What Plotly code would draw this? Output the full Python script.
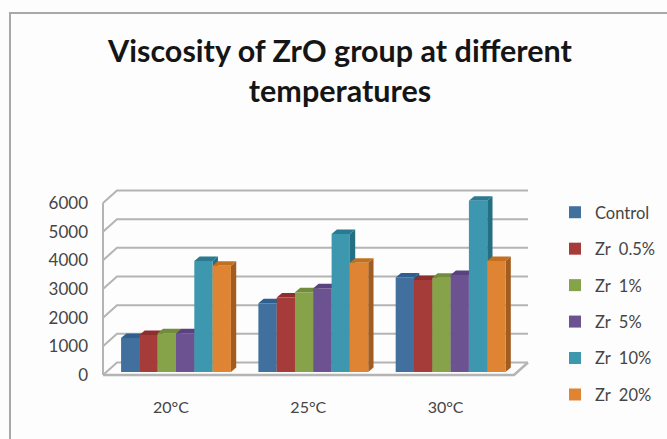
import plotly.graph_objects as go

categories = ["20°C", "25°C", "30°C"]
series_names = ["Control", "Zr  0.5%", "Zr  1%", "Zr  5%", "Zr  10%", "Zr  20%"]
control = [1190, 2400, 3300]
zr_05 = [1290, 2600, 3210]
zr_1 = [1350, 2780, 3290]
zr_5 = [1350, 2920, 3380]
zr_10 = [3870, 4810, 5975]
zr_20 = [3710, 3810, 3870]
y_ticks = [0, 1000, 2000, 3000, 4000, 5000, 6000]

values = [control, zr_05, zr_1, zr_5, zr_10, zr_20]
front = ["#41709f", "#a63c3a", "#86a34a", "#6c5290", "#3d97af", "#df8432"]
side = ["#2f5377", "#7a2b2a", "#617836", "#4e3a6b", "#256f83", "#a25c20"]
top = ["#2d5f8f", "#8e2f2e", "#708c3c", "#5a4280", "#2a7a90", "#c2701f"]

W, H = 667, 439
ML, MR, MT, MB = 90, 127, 180, 43
PX_X = 137.3      # px per category
PX_Y = 0.02867    # px per value unit
BASE_PX, CAT0_PX = 372, 176
GROUP = 0.8

to_x = lambda px: (px - CAT0_PX) / PX_X
to_y = lambda px: (BASE_PX - px) / PX_Y
xr = [to_x(ML), to_x(W - MR)]
yr = [to_y(H - MB), to_y(MT)]

DX, DY = 5.3 / PX_X, 4.5 / PX_Y          # bar depth in axis units
FLOOR = 3 / PX_Y                         # front edge sits below bar base
WX, WY = 14 / PX_X, 12.5 / PX_Y          # wall depth
XL, XR = to_x(103), to_x(514)
GRID = "#b4b4b4"


def poly(pts, fill):
    path = "M" + "L".join(f"{x},{y}" for x, y in pts) + "Z"
    return dict(type="path", path=path, xref="x", yref="y", layer="below",
                fillcolor=fill, line=dict(width=0))


def seg(pts, width=2):
    path = "M" + "L".join(f"{x},{y}" for x, y in pts)
    return dict(type="path", path=path, xref="x", yref="y", layer="below",
                line=dict(color=GRID, width=width))


fx = (10 - ML) / (W - ML - MR)
fxr = (W + 5 - ML) / (W - ML - MR)
fyt = (H - MB - 13) / (H - MT - MB)
fyb = (H - MB - H - 5) / (H - MT - MB)
shapes = [dict(type="path", xref="paper", yref="paper",
               path=f"M{fx},{fyb} L{fx},{fyt} L{fxr},{fyt}",
               line=dict(color="#a8a8a8", width=2), layer="below")]

for t in y_ticks:
    v = t - FLOOR
    shapes.append(seg([(XL, v), (XL + WX, v + WY), (XR + WX, v + WY)]))
shapes.append(seg([(XL, -FLOOR), (XL, y_ticks[-1] - FLOOR)]))
shapes.append(seg([(XL, -FLOOR), (XR, -FLOOR), (XR + WX, -FLOOR + WY)], 2.5))

w = GROUP / len(values)
for c in range(len(categories)):
    for k, s in enumerate(values):
        x0 = c - GROUP / 2 + k * w
        x1 = x0 + w
        v = s[c]
        shapes.append(poly([(x1, 0), (x1 + DX, DY), (x1 + DX, v + DY), (x1, v)], side[k]))
        shapes.append(poly([(x0, v), (x1, v), (x1 + DX, v + DY), (x0 + DX, v + DY)], top[k]))

fig = go.Figure()
for k, s in enumerate(values):
    fig.add_bar(x=list(range(len(categories))), y=s, name=series_names[k],
                marker=dict(color=front[k], line=dict(width=0)),
                legendgroup=series_names[k])

fig.update_layout(
    width=W, height=H, barmode="group", bargap=1 - GROUP, bargroupgap=0,
    margin=dict(l=ML, r=MR, t=MT, b=MB, autoexpand=False),
    paper_bgcolor="#fdfdfd", plot_bgcolor="rgba(0,0,0,0)",
    font=dict(family="Lato", color="#454545", size=16),
    title=dict(text="Viscosity of ZrO group at different<br>temperatures",
               x=340 / W, xanchor="center", y=1 - 62 / H, yanchor="top",
               font=dict(family="Lato", size=30.5, color="#151515", weight="bold")),
    shapes=shapes,
    legend=dict(x=(565 - ML) / (W - ML - MR), xanchor="left",
                y=(H - MB - 195) / (H - MT - MB), yanchor="top", indentation=-10,
                maxheight=430, tracegroupgap=12, font=dict(size=16.5),
                bgcolor="rgba(0,0,0,0)"),
    xaxis=dict(range=xr, tickvals=[i - 5 / PX_X for i in range(len(categories))],
               ticktext=categories, showgrid=False, zeroline=False, showline=False,
               ticks=""),
    yaxis=dict(range=yr, tickvals=[t - FLOOR for t in y_ticks],
               ticktext=[str(t) for t in y_ticks], showgrid=False, zeroline=False,
               showline=False, ticks="", tickfont=dict(size=17), ticklabelstandoff=1),
)
fig.write_html("out.html", config=dict(displayModeBar=False),
               post_script="document.body.style.margin='0';document.documentElement.style.overflow='hidden';document.documentElement.style.background='#fdfdfd';")
